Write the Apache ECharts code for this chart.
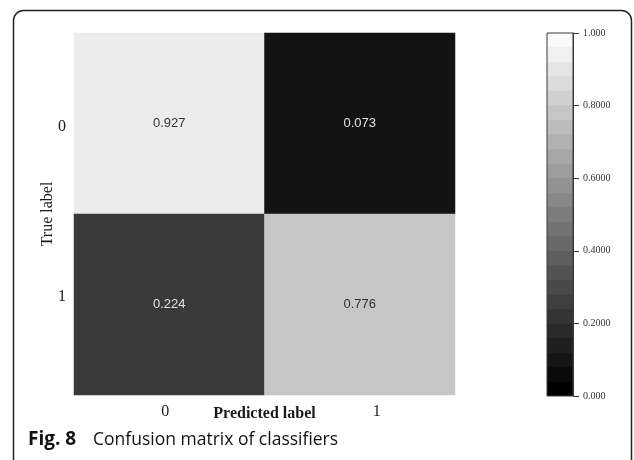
<!DOCTYPE html>
<html>
<head>
<meta charset="utf-8">
<script src="https://cdn.jsdelivr.net/npm/echarts@6/dist/echarts.min.js"></script>
<style>html,body{margin:0;padding:0;background:#fff;}#c{width:634px;height:460px;}</style>
</head>
<body>
<div id="c"></div>
<script>
const predictedLabels = ['0', '1'];
const trueLabels = ['0', '1'];
// rows: true label 0, true label 1; columns: predicted 0, predicted 1
const row0Values = [0.927, 0.073];
const row1Values = [0.224, 0.776];
const colorbarTickLabels = ['0.000', '0.2000', '0.4000', '0.6000', '0.8000', '1.000'];

const rows = [row0Values, row1Values];
const heatData = [];
rows.forEach((row, yi) => row.forEach((v, xi) => {
  heatData.push({ value: [xi, yi, v], label: { color: v > 0.5 ? '#333333' : '#e2e2e2' } });
}));

// stepped grey colour bar fill (style only)
const bands = 25;
const stops = [];
for (let i = 0; i < bands; i++) {
  const g = Math.round((bands - 1 - i) / (bands - 1) * 250);
  const c = 'rgb(' + g + ',' + g + ',' + g + ')';
  stops.push({ offset: i / bands, color: c });
  stops.push({ offset: (i + 1) / bands, color: c });
}

const serif = '"Liberation Serif", "DejaVu Serif", serif';
const chart = echarts.init(document.getElementById('c'));
chart.setOption({
  animation: false,
  backgroundColor: '#ffffff',
  grid: [
    { left: 74, top: 33, width: 381, height: 362 },
    { left: 547, top: 33, width: 26, height: 363, show: true, borderColor: '#3a3a3a', borderWidth: 1,
      backgroundColor: { type: 'linear', x: 0, y: 0, x2: 0, y2: 1, colorStops: stops } }
  ],
  xAxis: [
    { type: 'category', data: predictedLabels, gridIndex: 0,
      axisLine: { show: false }, axisTick: { show: false }, splitLine: { show: false },
      axisLabel: { margin: 9, fontFamily: serif, fontSize: 16, color: '#1a1a1a',
        formatter: v => '{c' + v + '|' + v + '}',
        rich: { c0: { fontFamily: serif, fontSize: 16, color: '#1a1a1a', padding: [0, 8, 0, 0] },
                c1: { fontFamily: serif, fontSize: 16, color: '#1a1a1a', padding: [0, 0, 4, 34] } } },
      name: 'Predicted label', nameLocation: 'middle', nameGap: 11, nameMoveOverlap: false,
      nameTextStyle: { fontFamily: serif, fontSize: 16, fontWeight: 'bold', color: '#1a1a1a' } },
    { type: 'value', gridIndex: 1, min: 0, max: 1, show: false }
  ],
  yAxis: [
    { type: 'category', data: trueLabels, inverse: true, gridIndex: 0,
      axisLine: { show: false }, axisTick: { show: false }, splitLine: { show: false },
      axisLabel: { margin: 8, fontFamily: serif, fontSize: 16, color: '#1a1a1a',
        formatter: v => '{c' + v + '|' + v + '}',
        rich: { c0: { fontFamily: serif, fontSize: 16, color: '#1a1a1a', padding: [6, 0, 0, 0] },
                c1: { fontFamily: serif, fontSize: 16, color: '#1a1a1a', padding: [0, 0, 16, 0] } } },
      name: 'True label', nameLocation: 'middle', nameGap: 18, nameMoveOverlap: false,
      nameTextStyle: { fontFamily: serif, fontSize: 16, color: '#1a1a1a' } },
    { type: 'value', gridIndex: 1, min: 0, max: 1, interval: 0.2, position: 'right', offset: 0,
      axisLine: { show: true, onZero: false, lineStyle: { color: '#3a3a3a', width: 1 } },
      axisTick: { show: true, inside: false, length: 6, lineStyle: { color: '#3a3a3a' } },
      splitLine: { show: false },
      axisLabel: { margin: 10, inside: false, fontFamily: serif, fontSize: 10, color: '#333333',
        formatter: v => colorbarTickLabels[Math.round(v * 5)] } }
  ],
  visualMap: {
    type: 'continuous', show: false, min: 0, max: 1, seriesIndex: 0,
    inRange: { color: ['#000000', '#ffffff'] }
  },
  series: [{
    type: 'heatmap', xAxisIndex: 0, yAxisIndex: 0, data: heatData,
    label: { show: true, fontFamily: '"Liberation Sans", Arial, sans-serif', fontSize: 13,
      formatter: p => p.value[2].toFixed(3) },
    itemStyle: { borderWidth: 0 },
    emphasis: { disabled: true }
  }],
  graphic: [
    { type: 'rect', silent: true, z: -1,
      shape: { x: 13.5, y: 10.5, width: 618, height: 480, r: 10 },
      style: { fill: 'none', stroke: '#222222', lineWidth: 1.5 } },
    { type: 'text', left: 28, top: 430, silent: true,
      style: { text: 'Fig. 8', font: 'bold 19px "Open Sans", "Noto Sans", sans-serif', fill: '#111111' } },
    { type: 'text', left: 93, top: 431, silent: true,
      style: { text: 'Confusion matrix of classifiers', font: '17.5px "Open Sans", "Noto Sans", sans-serif', fill: '#111111' } }
  ]
});
</script>
</body>
</html>
